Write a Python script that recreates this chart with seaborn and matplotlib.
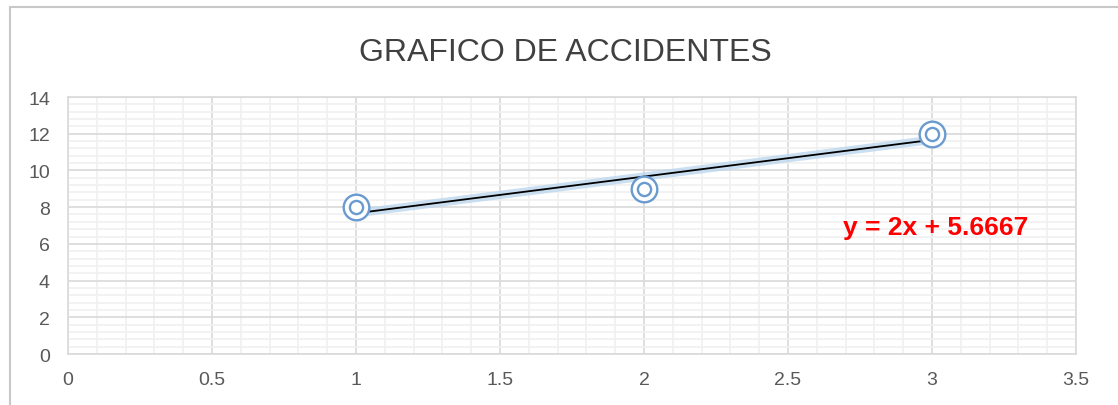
import numpy as np
import pandas as pd
import matplotlib
matplotlib.use("Agg")
from matplotlib import pyplot as plt
from matplotlib.ticker import MultipleLocator
import seaborn as sns

# data
x_vals = [1, 2, 3]
y_vals = [8, 9, 12]
title_text = "GRAFICO DE ACCIDENTES"

df = pd.DataFrame({"x": x_vals, "y": y_vals})

# linear trend line (same as Excel)
slope, intercept = np.polyfit(df["x"], df["y"], 1)
trend = pd.DataFrame({"x": [min(x_vals), max(x_vals)]})
trend["y"] = slope * trend["x"] + intercept
eq_text = "y = %gx + %.4f" % (round(slope, 4), intercept)

sns.set_style("white")
plt.rcParams["font.family"] = ["Liberation Sans", "DejaVu Sans"]

fig = plt.figure(figsize=(11.18, 4.06), dpi=100)
ax = fig.add_axes([0.0608, 0.1256, 0.9016, 0.633])

# outer chart border (left and top visible)
fig.lines.append(plt.Line2D([0.009, 0.009], [0, 0.98], transform=fig.transFigure,
                            color="#c8c8c8", lw=1.5))
fig.lines.append(plt.Line2D([0.009, 1.0], [0.98, 0.98], transform=fig.transFigure,
                            color="#c8c8c8", lw=1.5))

# trend line with soft blue glow underneath
sns.lineplot(data=trend, x="x", y="y", ax=ax, color="#bdd7ee", lw=6, alpha=0.8, zorder=3)
sns.lineplot(data=trend, x="x", y="y", ax=ax, color="black", lw=1.3, zorder=4)

# double circle markers
sns.scatterplot(data=df, x="x", y="y", ax=ax, s=340, marker="o", facecolor="white",
                edgecolor="#6a9bd0", linewidth=1.7, zorder=5)
sns.scatterplot(data=df, x="x", y="y", ax=ax, s=90, marker="o", facecolor="white",
                edgecolor="#6a9bd0", linewidth=1.7, zorder=6)

ax.set_xlim(0, 3.5)
ax.set_ylim(0, 14)
ax.xaxis.set_major_locator(MultipleLocator(0.5))
ax.xaxis.set_minor_locator(MultipleLocator(0.1))
ax.yaxis.set_major_locator(MultipleLocator(2))
ax.yaxis.set_minor_locator(MultipleLocator(0.4))
ax.set_xticks(np.arange(0, 3.51, 0.5))
ax.set_xticklabels(["0", "0.5", "1", "1.5", "2", "2.5", "3", "3.5"])

ax.grid(which="major", color="#d9d9d9", lw=1.2, zorder=0)
ax.grid(which="minor", color="#f0f0f0", lw=1.2, zorder=0)
ax.set_axisbelow(True)
for side in ["left", "top", "right", "bottom"]:
    ax.spines[side].set_color("#d9d9d9")
    ax.spines[side].set_linewidth(1.2)

ax.tick_params(which="both", length=0, labelsize=14, colors="#595959")
ax.tick_params(axis="x", pad=12)
ax.tick_params(axis="y", pad=13)
ax.set_xlabel("")
ax.set_ylabel("")

ax.set_title(title_text, fontsize=23, color="#404040", pad=27, x=0.493)
ax.text(2.69, 6.9, eq_text, color="#ff0000", fontsize=19, fontweight="bold",
        va="center", ha="left")

fig.savefig("out.png", dpi=100)
